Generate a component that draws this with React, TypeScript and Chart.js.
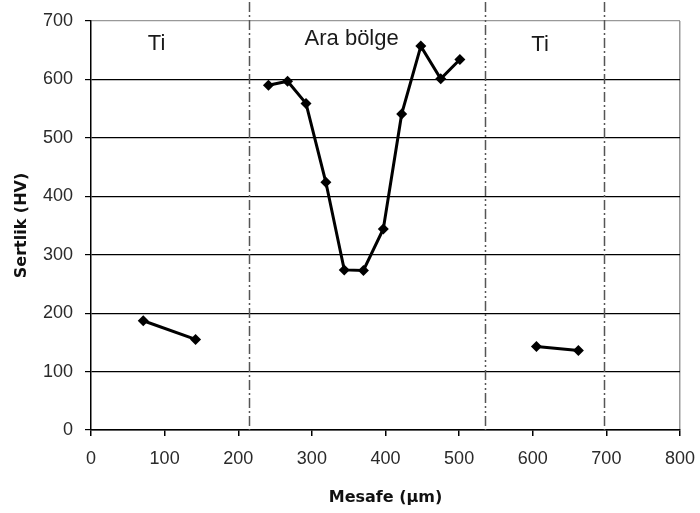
import React, { useEffect, useRef } from "react";
import { Chart, registerables } from "chart.js";

Chart.register(...registerables);

// Data
const tiLeftX = [71, 142];
const tiLeftY = [187, 155];
const araX = [241, 267, 292, 319, 344, 370, 397, 422, 448, 475, 501];
const araY = [590, 597, 559, 424, 274, 273, 344, 541, 657, 601, 634];
const tiRightX = [605, 662];
const tiRightY = [143, 136];

const xTicks = [0, 100, 200, 300, 400, 500, 600, 700, 800];
const yTicks = [0, 100, 200, 300, 400, 500, 600, 700];

const boundaryX = [215, 535, 697];
const boundaryDash = [[10, 3, 2, 3], [10, 3, 2, 3, 2, 3], [10, 3, 2, 3]];

const regionLabels = ["Ti", "Ara bölge", "Ti"];
const regionLabelX = [89, 354, 610];
const regionLabelY = [663, 672, 662];

const xTitle = "Mesafe (µm)";
const yTitle = "Sertlik (HV)";

const toPts = (xs: number[], ys: number[]) => xs.map((x, i) => ({ x, y: ys[i] }));

const overlayPlugin = {
  id: "overlay",
  beforeDatasetsDraw(chart: any) {
    const { ctx, scales, chartArea } = chart;
    ctx.save();
    boundaryX.forEach((v, i) => {
      const px = Math.round(scales.x.getPixelForValue(v)) + 0.5;
      ctx.beginPath();
      ctx.setLineDash(boundaryDash[i]);
      ctx.strokeStyle = "#555";
      ctx.lineWidth = 1.5;
      ctx.moveTo(px, 2);
      ctx.lineTo(px, chartArea.bottom);
      ctx.stroke();
    });
    ctx.setLineDash([]);
    ctx.fillStyle = "#1a1a1a";
    ctx.font = "22px 'Liberation Sans', Arial, sans-serif";
    ctx.textAlign = "center";
    ctx.textBaseline = "alphabetic";
    regionLabels.forEach((t, i) => {
      const px = scales.x.getPixelForValue(regionLabelX[i]);
      const py = scales.y.getPixelForValue(regionLabelY[i]);
      ctx.fillText(t, px, py + 0.358 * 22);
    });
    ctx.restore();
  },
};

export default function App() {
  const ref = useRef<HTMLCanvasElement>(null);
  useEffect(() => {
    if (!ref.current) return;
    const ds = (data: any) => ({
      data,
      borderColor: "#000",
      backgroundColor: "#000",
      borderWidth: 3,
      pointStyle: "rectRot",
      pointRadius: 5.5,
      pointBorderWidth: 0,
      showLine: true,
      tension: 0,
    });
    const tickFont = { family: "'Liberation Sans', Arial, sans-serif", size: 18 };
    const titleFont = { family: "'DejaVu Sans', Verdana, sans-serif", size: 16, weight: "bold" as const };
    const chart = new Chart(ref.current, {
      type: "scatter",
      data: {
        datasets: [ds(toPts(tiLeftX, tiLeftY)), ds(toPts(araX, araY)), ds(toPts(tiRightX, tiRightY))],
      },
      options: {
        animation: false,
        responsive: false,
        devicePixelRatio: 1,
        layout: { padding: { top: 21, right: 20, left: 0, bottom: 0 } },
        plugins: { legend: { display: false }, tooltip: { enabled: false } },
        scales: {
          x: {
            type: "linear",
            min: 0,
            max: 800,
            afterFit: (s: any) => { s.height = 83; s.paddingLeft = 0; s.paddingRight = 0; },
            afterBuildTicks: (s: any) => { s.ticks = xTicks.map((v) => ({ value: v })); },
            ticks: { font: tickFont, color: "#2a2a2a", padding: 12, maxRotation: 0 },
            grid: {
              color: (c: any) => (c.tick && c.tick.value === 800 ? "#999" : "rgba(0,0,0,0)"),
              tickColor: "#000",
              tickLength: 6,
              lineWidth: 1.5,
            },
            border: { color: "#000", width: 1.5 },
            title: { display: true, text: xTitle, font: titleFont, color: "#111", padding: { top: 0, bottom: 6 } },
          },
          y: {
            type: "linear",
            min: 0,
            max: 700,
            afterFit: (s: any) => { s.width = 91; s.paddingTop = 0; s.paddingBottom = 0; },
            afterBuildTicks: (s: any) => { s.ticks = yTicks.map((v) => ({ value: v })); },
            ticks: { font: tickFont, color: "#2a2a2a", padding: 12 },
            grid: {
              color: (c: any) => (c.tick && c.tick.value === 700 ? "#999" : "#000"),
              tickColor: "#000",
              tickLength: 6,
              lineWidth: 1.2,
            },
            border: { color: "#000", width: 1.5 },
            title: { display: true, text: yTitle, font: titleFont, color: "#111", padding: { top: 12, bottom: 0 } },
          },
        },
      },
      plugins: [overlayPlugin],
    });
    return () => chart.destroy();
  }, []);
  return (
    <div style={{ position: "absolute", left: 0, top: 0, width: 700, height: 513, background: "#fff" }}>
      <canvas ref={ref} width={700} height={513} />
    </div>
  );
}
